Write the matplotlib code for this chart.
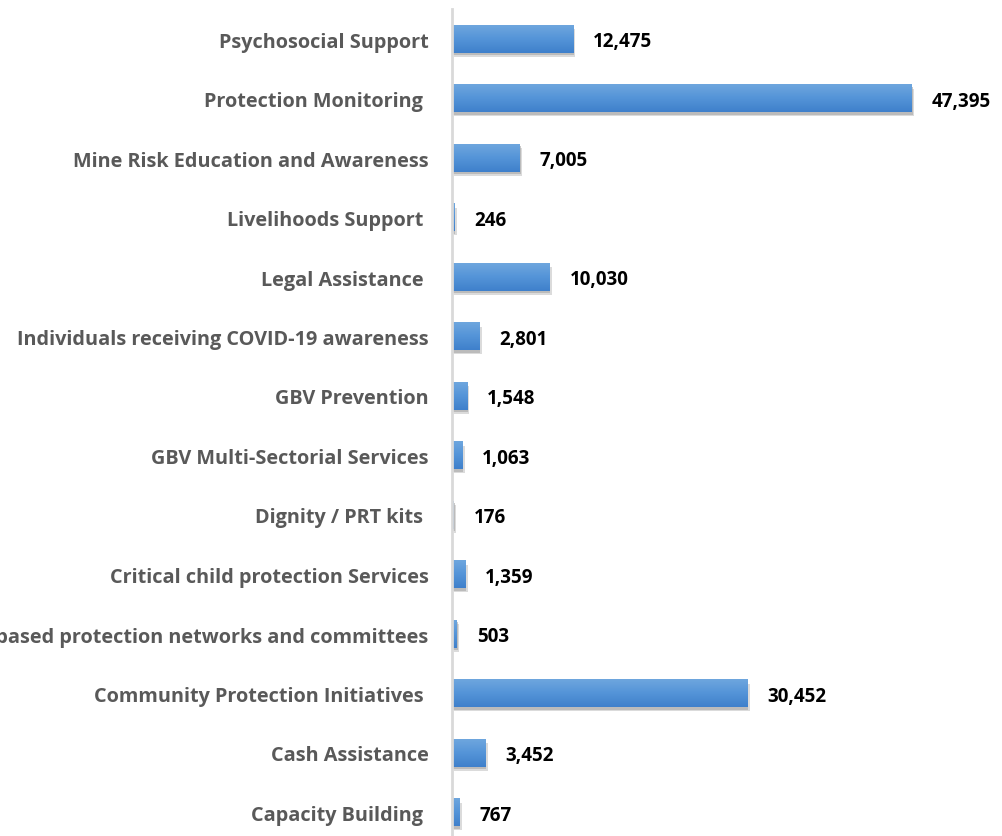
import numpy as np
import matplotlib
matplotlib.use("Agg")
import matplotlib.pyplot as plt

# data, top to bottom as shown
categories = [
    "Psychosocial Support",
    "Protection Monitoring ",
    "Mine Risk Education and Awareness",
    "Livelihoods Support ",
    "Legal Assistance ",
    "Individuals receiving COVID-19 awareness",
    "GBV Prevention",
    "GBV Multi-Sectorial Services",
    "Dignity / PRT kits ",
    "Critical child protection Services",
    "Community-based protection networks and committees",
    "Community Protection Initiatives ",
    "Cash Assistance",
    "Capacity Building ",
]
values = [12475, 47395, 7005, 246, 10030, 2801, 1548, 1063, 176, 1359, 503, 30452, 3452, 767]

W, H = 1002, 837
plt.rcParams['font.family'] = ['Open Sans', 'DejaVu Sans']
fig = plt.figure(figsize=(W / 100, H / 100), dpi=100)

px_per_unit = (912 - 452) / 47395.0
n = len(categories)
row_h = 59.5
top_px = 40 - row_h / 2
ax_h = n * row_h
ax = fig.add_axes([452 / W, (H - top_px - ax_h) / H, (W - 452) / W, ax_h / H])
xmax = (W - 452) / px_per_unit

bar_h = 0.47
ys = np.arange(n)

# shadow, offset down-right a little
sx = 3 / px_per_unit
sy = 4 / row_h
for y, v in zip(ys, values):
    ax.barh(y + sy, v + sx * 0.3, height=bar_h, left=sx * 0.5, color="#bfbfbf", alpha=0.55, zorder=1)
    ax.barh(y + sy * 0.6, v, height=bar_h, left=sx * 0.3, color="#a6a6a6", alpha=0.6, zorder=1)

# gradient bars
grad = np.linspace(0, 1, 64).reshape(-1, 1)
cmap = matplotlib.colors.LinearSegmentedColormap.from_list("b", ["#6ea6de", "#5494d8", "#3f80cb"])
for y, v in zip(ys, values):
    ax.imshow(grad, cmap=cmap, aspect="auto", interpolation="bilinear",
              extent=(0, v, y + bar_h / 2, y - bar_h / 2), zorder=2)
ax.set_xlim(0, xmax)
ax.set_ylim(n - 0.5, -0.5)

off = 20 / px_per_unit
for y, v in zip(ys, values):
    ax.text(v + off, y + 0.04, f"{v:,}", ha="left", va="center",
            fontsize=13.5, fontweight="bold", color="black")

ax.set_yticks(ys)
ax.set_yticklabels(categories, fontsize=14.3, fontweight="bold", color="#595959")
ax.tick_params(axis="y", length=0, pad=17)
ax.set_xticks([])
for s in ["top", "right", "bottom"]:
    ax.spines[s].set_visible(False)
ax.spines["left"].set_color("#d9d9d9")
ax.spines["left"].set_linewidth(2)
ax.spines["left"].set_zorder(3)

fig.savefig("out.png", dpi=100)
